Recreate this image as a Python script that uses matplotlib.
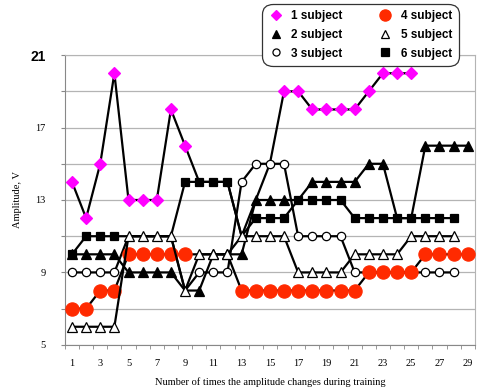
import numpy as np
import matplotlib
matplotlib.use("Agg")
import matplotlib.pyplot as plt
from matplotlib.lines import Line2D

# amplitude per training step, one list per subject
s1 = [14, 12, 15, 20, 13, 13, 13, 18, 16, 14, 14, 14, 11, 13, 15, 19, 19, 18, 18, 18,
      18, 19, 20, 20, 20]
s2 = [10, 10, 10, 10, 9, 9, 9, 9, 8, 8, 10, 10, 10, 13, 13, 13, 13, 14, 14, 14,
      14, 15, 15, 12, 12, 16, 16, 16, 16]
s3 = [9, 9, 9, 9, 11, 11, 11, 11, 8, 9, 9, 9, 14, 15, 15, 15, 11, 11, 11, 11,
      9, 9, 9, 9, 9, 9, 9, 9]
s4 = [7, 7, 8, 8, 10, 10, 10, 10, 10, 10, 10, 10, 8, 8, 8, 8, 8, 8, 8, 8,
      8, 9, 9, 9, 9, 10, 10, 10, 10]
s5 = [6, 6, 6, 6, 11, 11, 11, 11, 8, 10, 10, 10, 11, 11, 11, 11, 9, 9, 9, 9,
      10, 10, 10, 10, 11, 11, 11, 11]
s6 = [10, 11, 11, 11, 11, 11, 11, 11, 14, 14, 14, 14, 11, 12, 12, 12, 13, 13, 13, 13,
      12, 12, 12, 12, 12, 12, 12, 12]

# steps (1-based) whose markers are covered by another subject in the original
hidden1 = [10, 11, 12, 13, 14, 15]
hidden2 = [9, 17, 24, 25]
hidden3 = [5, 6, 7, 8, 9, 22, 23, 24, 25]
hidden4 = [10, 11, 12]
hidden5 = []
hidden6 = [5, 6, 7, 8, 13]

labels = ["1 subject", "2 subject", "3 subject", "4 subject", "5 subject", "6 subject"]
x_ticks = list(range(1, 30, 2))
y_ticks = list(range(5, 22, 2))
y_labels = ["5", "", "9", "", "13", "", "17", "", "21"]

red = "#ff2a00"
styles = [
    dict(marker="D", ms=6, mfc="#ff00ff", mec="#ff00ff", z=3),
    dict(marker="^", ms=6.5, mfc="black", mec="black", z=4),
    dict(marker="o", ms=6, mfc="white", mec="black", z=5),
    dict(marker="o", ms=9.5, mfc=red, mec=red, z=6),
    dict(marker="^", ms=6.5, mfc="white", mec="black", z=8),
    dict(marker="s", ms=6, mfc="black", mec="black", z=7),
]

fig = plt.figure(figsize=(4.88, 3.91), dpi=100)
ax = fig.add_axes([0.133, 0.118, 0.840, 0.741])

series = [s1, s2, s3, s4, s5, s6]
hidden = [hidden1, hidden2, hidden3, hidden4, hidden5, hidden6]
handles = []
for vals, hid, st, lab in zip(series, hidden, styles, labels):
    xs = np.arange(1, len(vals) + 1)
    shown = [i for i in range(len(vals)) if i + 1 not in hid]
    ax.plot(xs, vals, color="black", lw=1.6, marker=st["marker"], ms=st["ms"],
            mfc=st["mfc"], mec=st["mec"], mew=0.9, markevery=shown, zorder=st["z"])
    handles.append(Line2D([], [], ls="none", marker=st["marker"], ms=st["ms"] * 0.85,
                          mfc=st["mfc"], mec=st["mec"], mew=0.9, label=lab))

ax.set_xlim(0.5, 29.5)
ax.set_ylim(5, 21)
ax.set_yticks(y_ticks)
ax.set_yticklabels(y_labels, family="Liberation Serif", fontsize=7.5)
lab21 = ax.get_yticklabels()[-1]
lab21.set_family("Liberation Sans")
lab21.set_fontweight("bold")
lab21.set_fontsize(10)
ax.tick_params(axis="y", length=3, color="#888888", pad=11)
ax.yaxis.grid(True, color="#b4b4b4", lw=0.9)
ax.set_axisbelow(True)

ax.set_xticks(x_ticks)
ax.set_xticklabels([str(t) for t in x_ticks], family="Liberation Serif", fontsize=7.5)
ax.set_xticks(np.arange(0.5, 30, 1), minor=True)
ax.tick_params(axis="x", which="major", length=0, pad=10)
ax.tick_params(axis="x", which="minor", length=3, color="#888888")

for side in ["left", "bottom"]:
    ax.spines[side].set_color("#888888")
for side in ["top", "right"]:
    ax.spines[side].set_color("#b4b4b4")

ax.set_ylabel("Amplitude, V", family="Liberation Serif", fontsize=7.5, labelpad=6)
ax.set_xlabel("Number of times the amplitude changes during training",
              family="Liberation Serif", fontsize=7.5, labelpad=7)

leg = fig.legend(handles=handles, ncol=2, loc="upper left",
                 bbox_to_anchor=(0.530, 1.0), frameon=True, fancybox=True,
                 prop=dict(family="Liberation Sans", weight="bold", size=8.5),
                 handlelength=1.2, handletextpad=0.7, columnspacing=3.0,
                 labelspacing=0.56, borderpad=0.38)
leg.set_zorder(10)
frame = leg.get_frame()
frame.set_edgecolor("#333333")
frame.set_linewidth(0.9)
frame.set_boxstyle("round,pad=0.2,rounding_size=0.9")
frame.set_alpha(1)

fig.savefig("out.png", dpi=100)
